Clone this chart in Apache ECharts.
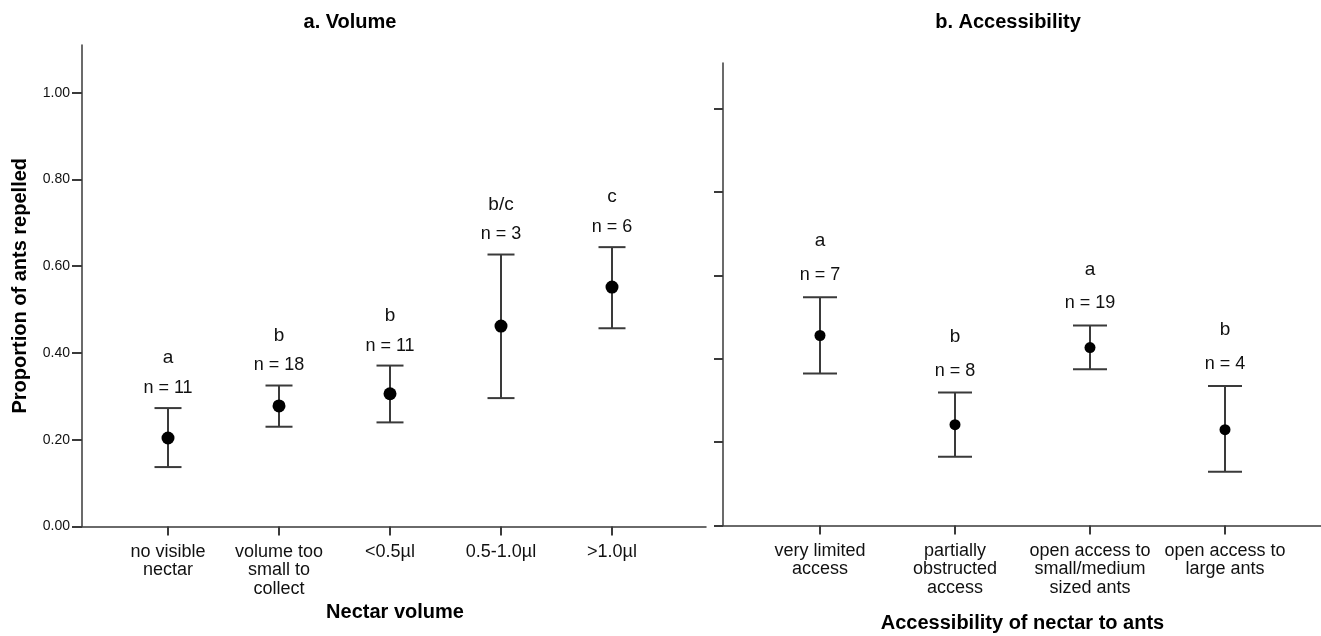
<!DOCTYPE html>
<html>
<head>
<meta charset="utf-8">
<script src="https://cdn.jsdelivr.net/npm/echarts@6/dist/echarts.min.js"></script>
<style>
html,body{margin:0;padding:0;background:#fff;}
#c{width:1321px;height:636px;}
</style>
</head>
<body>
<div id="c"></div>
<script>
// ---- data ----
const volCats = ['no visible\nnectar', 'volume too\nsmall to\ncollect', '<0.5µl', '0.5-1.0µl', '>1.0µl'];
const volMean = [0.204, 0.278, 0.306, 0.462, 0.552];
const volLow = [0.137, 0.230, 0.240, 0.296, 0.457];
const volHigh = [0.273, 0.325, 0.371, 0.627, 0.644];
const volN = [11, 18, 11, 3, 6];
const volLetters = ['a', 'b', 'b', 'b/c', 'c'];

const accCats = ['very limited\naccess', 'partially\nobstructed\naccess', 'open access to\nsmall/medium\nsized ants', 'open access to\nlarge ants'];
const accMean = [0.456, 0.242, 0.427, 0.230];
const accLow = [0.365, 0.165, 0.375, 0.129];
const accHigh = [0.548, 0.319, 0.480, 0.335];
const accN = [7, 8, 19, 4];
const accLetters = ['a', 'b', 'a', 'b'];

const yTicks = [0, 0.2, 0.4, 0.6, 0.8, 1.0];
const Y_MAX = 1.11;

const FONT = "'Liberation Sans', Arial, sans-serif";
const LINE = '#3a3a3a';

function errRender(lows, highs, ns, letters, capW, nGap, lGap) {
  return function (params, api) {
    const i = params.dataIndex;
    const lo = api.coord([i, lows[i]]);
    const hi = api.coord([i, highs[i]]);
    const x = lo[0];
    const ls = { stroke: LINE, lineWidth: 2 };
    return {
      type: 'group',
      children: [
        { type: 'line', shape: { x1: x, y1: lo[1], x2: x, y2: hi[1] }, style: ls },
        { type: 'line', shape: { x1: x - capW / 2, y1: lo[1], x2: x + capW / 2, y2: lo[1] }, style: ls },
        { type: 'line', shape: { x1: x - capW / 2, y1: hi[1], x2: x + capW / 2, y2: hi[1] }, style: ls },
        { type: 'text', style: { x: x, y: hi[1] - nGap, text: 'n = ' + ns[i], align: 'center', verticalAlign: 'middle', font: '18px ' + FONT, fill: '#111' } },
        { type: 'text', style: { x: x, y: hi[1] - nGap - lGap, text: letters[i], align: 'center', verticalAlign: 'middle', font: '19px ' + FONT, fill: '#111' } }
      ]
    };
  };
}

const frameX = {
  type: 'value', min: 0, max: 1,
  axisLine: { show: true, lineStyle: { color: LINE, width: 1.5 } },
  axisTick: { show: false }, axisLabel: { show: false }, splitLine: { show: false }
};

const catLabel = { margin: 16, fontFamily: FONT, fontSize: 18, color: '#111', lineHeight: 18.5, interval: 0 };
const nameStyle = { fontFamily: FONT, fontSize: 20, fontWeight: 'bold', color: '#000' };

const option = {
  backgroundColor: '#fff',
  animation: false,
  title: [
    { text: 'a. Volume', left: 345, top: 7, textAlign: 'center', textStyle: { fontFamily: FONT, fontSize: 20, fontWeight: 'bold', color: '#000' } },
    { text: 'b. Accessibility', left: 1003, top: 7, textAlign: 'center', textStyle: { fontFamily: FONT, fontSize: 20, fontWeight: 'bold', color: '#000' } }
  ],
  grid: [
    { left: 82, top: 45, width: 624, height: 481.5, outerBoundsMode: 'none' },
    { left: 112.5, top: 45, width: 555, height: 481.5, outerBoundsMode: 'none' },
    { left: 723, top: 63, right: 0, height: 462.5, outerBoundsMode: 'none' },
    { left: 752.5, top: 63, width: 540, height: 462.5, outerBoundsMode: 'none' }
  ],
  xAxis: [
    Object.assign({ gridIndex: 0 }, frameX),
    {
      gridIndex: 1, type: 'category', data: volCats,
      axisLine: { show: false },
      axisTick: { show: true, alignWithLabel: true, length: 9, lineStyle: { color: LINE, width: 2 } },
      axisLabel: catLabel,
      name: 'Nectar volume', nameLocation: 'middle', nameGap: 66,
      nameTextStyle: Object.assign({ padding: [0, 0, 0, 10] }, nameStyle)
    },
    Object.assign({ gridIndex: 2 }, frameX),
    {
      gridIndex: 3, type: 'category', data: accCats,
      axisLine: { show: false },
      axisTick: { show: true, alignWithLabel: true, length: 9, lineStyle: { color: LINE, width: 2 } },
      axisLabel: catLabel,
      name: 'Accessibility of nectar to ants', nameLocation: 'middle', nameGap: 88,
      nameTextStyle: nameStyle
    }
  ],
  yAxis: [
    {
      gridIndex: 0, type: 'value', min: 0, max: Y_MAX,
      axisLine: { show: true, lineStyle: { color: LINE, width: 1.5 } },
      axisTick: { show: true, length: 10, customValues: yTicks, lineStyle: { color: LINE, width: 2 } },
      axisLabel: { show: true, customValues: yTicks, margin: 12, fontFamily: FONT, fontSize: 14, color: '#111', formatter: v => v.toFixed(2) },
      splitLine: { show: false },
      name: 'Proportion of ants repelled', nameLocation: 'middle', nameGap: 52, nameRotate: 90,
      nameTextStyle: nameStyle
    },
    { gridIndex: 1, type: 'value', min: 0, max: Y_MAX, show: false },
    {
      gridIndex: 2, type: 'value', min: 0, max: Y_MAX,
      axisLine: { show: true, lineStyle: { color: LINE, width: 1.5 } },
      axisTick: { show: true, length: 9, customValues: yTicks, lineStyle: { color: LINE, width: 2 } },
      axisLabel: { show: false },
      splitLine: { show: false }
    },
    { gridIndex: 3, type: 'value', min: 0, max: Y_MAX, show: false }
  ],
  series: [
    {
      type: 'custom', xAxisIndex: 1, yAxisIndex: 1,
      renderItem: errRender(volLow, volHigh, volN, volLetters, 27, 20, 30),
      data: volMean.map((v, i) => [i, v]), silent: true
    },
    {
      type: 'scatter', xAxisIndex: 1, yAxisIndex: 1, symbolSize: 13,
      itemStyle: { color: '#000', opacity: 1 },
      data: volMean.map((v, i) => [i, v]), z: 5
    },
    {
      type: 'custom', xAxisIndex: 3, yAxisIndex: 3,
      renderItem: errRender(accLow, accHigh, accN, accLetters, 34, 22, 34),
      data: accMean.map((v, i) => [i, v]), silent: true
    },
    {
      type: 'scatter', xAxisIndex: 3, yAxisIndex: 3, symbolSize: 11,
      itemStyle: { color: '#000', opacity: 1 },
      data: accMean.map((v, i) => [i, v]), z: 5
    }
  ]
};

const chart = echarts.init(document.getElementById('c'), null, { renderer: 'canvas' });
chart.setOption(option);
</script>
</body>
</html>
